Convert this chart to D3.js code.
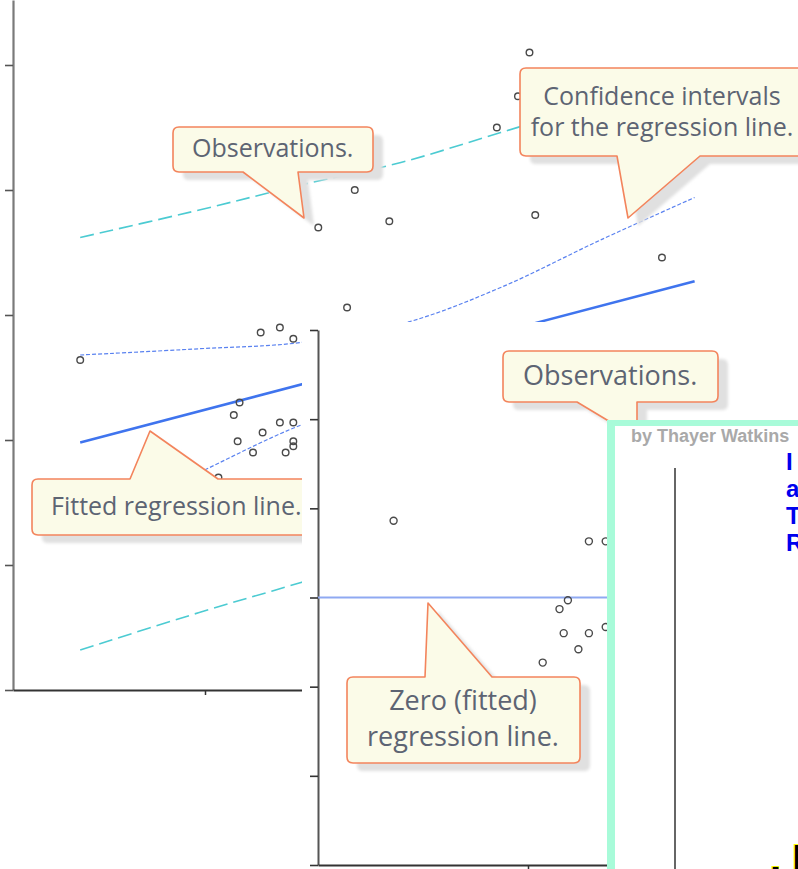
<!DOCTYPE html>
<html>
<head>
<meta charset="utf-8">
<script src="https://cdn.jsdelivr.net/npm/d3@7"></script>
<style>
  html, body { margin: 0; padding: 0; background: #fff; overflow: hidden; }
  svg { display: block; }
</style>
</head>
<body>
<svg id="chart" width="798" height="869"></svg>
<script>
// ---- Regression of y on x: observations ----
const obsX = [0.35, 1.07, 1.15, 1.17, 1.18, 1.25, 1.29, 1.30, 1.39, 1.39, 1.42, 1.46,
              1.46, 1.46, 1.46, 1.59, 1.74, 1.78, 1.96, 2.52, 2.63, 2.69, 2.72, 3.38];
const obsY = [2.64, 1.70, 2.20, 1.99, 2.30, 1.90, 2.86, 2.06, 2.90, 2.14, 1.90, 2.81,
              2.14, 1.99, 1.95, 3.70, 3.06, 4.00, 3.75, 4.50, 4.75, 5.10, 3.80, 3.46];

// Fitted regression line (end points)
const fitX = [0.35, 3.55];
const fitY = [1.98, 3.27];

// Confidence band for the regression line
const ciX     = [0.35, 0.97, 1.50, 2.05, 2.54, 3.06, 3.55];
const ciUpper = [2.68, 2.73, 2.78, 2.94, 3.22, 3.60, 3.94];
const ciLower = [1.28, 1.74, 2.12, 2.40, 2.51, 2.54, 2.60];

// Prediction band for single observations
const piX     = [0.35, 0.97, 1.50, 2.02, 2.54, 3.06, 3.54];
const piUpper = [3.62, 3.84, 4.04, 4.22, 4.46, 4.70, 4.92];
const piLower = [0.32, 0.62, 0.86, 1.10, 1.27, 1.45, 1.62];

// ---- Residual plot ----
const resX = [0.36, 1.29, 1.37, 1.19, 1.15, 1.17, 1.29, 1.37, 1.24, 1.07];
const resY = [0.86, 0.63, 0.63, -0.03, -0.13, -0.40, -0.40, -0.33, -0.58, -0.73];
const zeroLineX = [0, 1.38];

// Tick values
const yTicks1 = [0, 1, 2, 3, 4, 5];
const xTicks1 = [1, 2, 3];
const yTicks2 = [-3, -2, -1, 0, 1, 2, 3];
const xTicks2 = [1];

// Annotation texts
const noteObs1   = ["Observations."];
const noteConf   = ["Confidence intervals", "for the regression line."];
const noteFitted = ["Fitted regression line."];
const noteObs2   = ["Observations."];
const noteZero   = ["Zero (fitted)", "regression line."];

// Header texts of the front page
const byline = "by Thayer Watkins";
const titleLetters = ["I", "a", "T", "R"];

const svg = d3.select("#chart");

const defs = svg.append("defs");
defs.append("filter").attr("id", "soft")
  .attr("x", "-10%").attr("y", "-10%").attr("width", "130%").attr("height", "140%")
  .append("feGaussianBlur").attr("stdDeviation", 1.6);

// ---------- callout helper ----------
const calloutFill = "#fbfbe8", calloutStroke = "#f3845c", calloutText = "#5d6473";
function calloutPath(b) {
  const r = 6, {x0, y0, x1, y1, p1, p2, tip} = b;
  if (b.side === "bottom") {
    return `M${x0 + r},${y0} H${x1 - r} Q${x1},${y0} ${x1},${y0 + r} V${y1 - r} Q${x1},${y1} ${x1 - r},${y1}` +
           ` H${p2} L${tip[0]},${tip[1]} L${p1},${y1} H${x0 + r} Q${x0},${y1} ${x0},${y1 - r} V${y0 + r} Q${x0},${y0} ${x0 + r},${y0} Z`;
  }
  return `M${x0 + r},${y0} H${p1} L${tip[0]},${tip[1]} L${p2},${y0} H${x1 - r} Q${x1},${y0} ${x1},${y0 + r}` +
         ` V${y1 - r} Q${x1},${y1} ${x1 - r},${y1} H${x0 + r} Q${x0},${y1} ${x0},${y1 - r} V${y0 + r} Q${x0},${y0} ${x0 + r},${y0} Z`;
}
function callout(g, b, lines, opts) {
  const d = calloutPath(b);
  g.append("path").attr("d", d).attr("transform", "translate(10,8)")
    .attr("fill", "#e0e0e0").attr("filter", "url(#soft)");
  g.append("path").attr("d", d).attr("fill", calloutFill)
    .attr("stroke", calloutStroke).attr("stroke-width", 1.6).attr("stroke-linejoin", "round");
  g.selectAll(null).data(lines).enter().append("text")
    .attr("x", opts.x).attr("y", (t, i) => opts.y + i * opts.lh)
    .attr("text-anchor", opts.anchor)
    .attr("font-family", "'Open Sans', sans-serif")
    .attr("font-size", opts.size)
    .attr("fill", calloutText)
    .text(t => t);
}

// =====================================================
// Panel 1: scatter with fitted line and bands
// =====================================================
const p1 = svg.append("g");
const x1 = d3.scaleLinear().domain([0, 4]).range([13, 781]);
const y1 = d3.scaleLinear().domain([0, 5.52]).range([690, 0]);

p1.append("g").attr("transform", `translate(${x1(0)},0)`)
  .call(d3.axisLeft(y1).tickValues(yTicks1).tickSize(8).tickSizeOuter(0).tickFormat(""))
  .call(g => g.select(".domain").attr("stroke", "#7a7a7a").attr("stroke-width", 2.2))
  .call(g => g.selectAll(".tick line").attr("stroke", "#555").attr("stroke-width", 1.6));

p1.append("g").attr("transform", `translate(0,${y1(0)})`)
  .call(d3.axisBottom(x1).tickValues(xTicks1).tickSize(5).tickSizeOuter(0).tickFormat(""))
  .call(g => g.select(".domain").attr("stroke", "#333").attr("stroke-width", 1.8))
  .call(g => g.selectAll(".tick line").attr("stroke", "#333").attr("stroke-width", 1.5));

const band = (xs, ys) => d3.line().curve(d3.curveCatmullRom)
  .x((d, i) => x1(xs[i])).y((d, i) => y1(ys[i]))(ys);

// prediction band (cyan dashes)
[piUpper, piLower].forEach(ys => {
  p1.append("path").attr("d", band(piX, ys)).attr("fill", "none")
    .attr("stroke", "#4ccbd2").attr("stroke-width", 1.6).attr("stroke-dasharray", "14,6");
});
// confidence band (blue fine dashes)
[ciUpper, ciLower].forEach(ys => {
  p1.append("path").attr("d", band(ciX, ys)).attr("fill", "none")
    .attr("stroke", "#5a82f0").attr("stroke-width", 1.2).attr("stroke-dasharray", "4,2");
});
// fitted line
p1.append("path").attr("d", band(fitX, fitY)).attr("fill", "none")
  .attr("stroke", "#3f74ee").attr("stroke-width", 2.6);

// observations
p1.selectAll("circle.obs").data(obsX).enter().append("circle")
  .attr("class", "obs")
  .attr("cx", d => x1(d)).attr("cy", (d, i) => y1(obsY[i])).attr("r", 3.3)
  .attr("fill", "none").attr("stroke", "#4a4a4a").attr("stroke-width", 1.4);

callout(p1, {x0: 173, y0: 127, x1: 373, y1: 172, side: "bottom", p1: 243, p2: 298, tip: [304, 218]},
  noteObs1, {x: 192, y: 157, lh: 0, anchor: "start", size: 25});
callout(p1, {x0: 520, y0: 68, x1: 840, y1: 156, side: "bottom", p1: 617, p2: 700, tip: [628, 218]},
  noteConf, {x: 662, y: 105, lh: 31, anchor: "middle", size: 25});
callout(p1, {x0: 32, y0: 479, x1: 330, y1: 535, side: "top", p1: 130, p2: 218, tip: [150, 431]},
  noteFitted, {x: 51, y: 515, lh: 0, anchor: "start", size: 25});

// =====================================================
// Panel 2: residual plot
// =====================================================
const p2 = svg.append("g");
p2.append("rect").attr("x", 302).attr("y", 322).attr("width", 520).attr("height", 560).attr("fill", "#fff");

const x2 = d3.scaleLinear().domain([0, 2]).range([318, 738]);
const y2 = d3.scaleLinear().domain([-3, 3]).range([865, 330]);

p2.append("g").attr("transform", `translate(${x2(0)},0)`)
  .call(d3.axisLeft(y2).tickValues(yTicks2).tickSize(8).tickSizeOuter(0).tickFormat(""))
  .call(g => g.select(".domain").attr("stroke", "#555").attr("stroke-width", 2))
  .call(g => g.selectAll(".tick line").attr("stroke", "#333").attr("stroke-width", 1.6));

p2.append("g").attr("transform", `translate(0,${y2(-3)})`)
  .call(d3.axisBottom(x2).tickValues(xTicks2).tickSize(4).tickSizeOuter(0).tickFormat(""))
  .call(g => g.select(".domain").attr("stroke", "#333").attr("stroke-width", 1.8))
  .call(g => g.selectAll(".tick line").attr("stroke", "#333").attr("stroke-width", 1.5));

p2.append("line")
  .attr("x1", x2(zeroLineX[0])).attr("x2", x2(zeroLineX[1]))
  .attr("y1", y2(0)).attr("y2", y2(0))
  .attr("stroke", "#8fa9f2").attr("stroke-width", 2.2);

p2.selectAll("circle.res").data(resX).enter().append("circle")
  .attr("class", "res")
  .attr("cx", d => x2(d)).attr("cy", (d, i) => y2(resY[i])).attr("r", 3.5)
  .attr("fill", "none").attr("stroke", "#4a4a4a").attr("stroke-width", 1.4);

callout(p2, {x0: 503, y0: 351, x1: 718, y1: 402, side: "bottom", p1: 577, p2: 637, tip: [637, 438]},
  noteObs2, {x: 523, y: 385, lh: 0, anchor: "start", size: 27});
callout(p2, {x0: 347, y0: 677, x1: 580, y1: 763, side: "top", p1: 425, p2: 492, tip: [428, 603]},
  noteZero, {x: 463, y: 710, lh: 36, anchor: "middle", size: 27});

// =====================================================
// Panel 3: front page
// =====================================================
const p3 = svg.append("g");
p3.append("rect").attr("x", 607).attr("y", 420).attr("width", 260).attr("height", 520).attr("fill", "#a8fbd9");
p3.append("rect").attr("x", 615).attr("y", 426).attr("width", 260).attr("height", 520).attr("fill", "#fff");

p3.append("text").attr("x", 631).attr("y", 442)
  .attr("font-family", "'Liberation Sans', Arial, sans-serif").attr("font-weight", "bold")
  .attr("font-size", 18).attr("fill", "#a9a9a9").text(byline);

p3.selectAll("text.title").data(titleLetters).enter().append("text")
  .attr("class", "title")
  .attr("x", 786).attr("y", (d, i) => 470 + i * 27)
  .attr("font-family", "'Liberation Sans', Arial, sans-serif").attr("font-weight", "bold")
  .attr("font-size", 24).attr("fill", "#0000ee").text(d => d);

p3.append("line").attr("x1", 675).attr("x2", 675).attr("y1", 468).attr("y2", 869)
  .attr("stroke", "#333").attr("stroke-width", 1.5);

p3.append("text").attr("x", 770).attr("y", 873)
  .attr("font-family", "'Liberation Sans', Arial, sans-serif").attr("font-weight", "bold")
  .attr("font-size", 40).attr("fill", "#000")
  .attr("stroke", "#ffff00").attr("stroke-width", 2).attr("paint-order", "stroke")
  .attr("xml:space", "preserve").text(". I");
</script>
</body>
</html>
